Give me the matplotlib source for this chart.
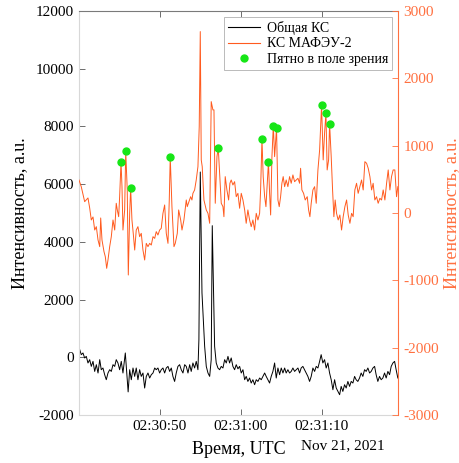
import numpy as np
import matplotlib
matplotlib.use("Agg")
import matplotlib.pyplot as plt
from matplotlib.lines import Line2D

plt.rcParams["font.family"] = ["Liberation Serif", "DejaVu Serif"]
plt.rcParams["axes.unicode_minus"] = False

# time in seconds after 02:30:40 UTC, Nov 21, 2021
total_t = [0.09, 0.28, 0.49, 0.70, 0.90, 1.11, 1.32, 1.52, 1.73, 1.94, 2.14, 2.35, 2.56, 2.75, 2.96,
           3.17, 3.37, 3.58, 3.79, 3.99, 4.20, 4.41, 4.60, 4.81, 5.02, 5.22, 5.43, 5.72, 6.07, 6.26,
           6.46, 6.67, 6.88, 7.07, 7.28, 7.49, 7.69, 7.90, 8.11, 8.31, 8.52, 8.73, 8.93, 9.14, 9.35,
           9.54, 9.75, 9.96, 10.16, 10.37, 10.58, 10.78, 10.99, 11.20, 11.40, 11.60, 11.81, 12.01, 12.22, 12.43,
           12.63, 12.84, 13.05, 13.25, 13.46, 13.67, 13.86, 14.07, 14.28, 14.48, 14.69, 14.81, 14.98, 15.19, 15.35,
           15.52, 15.72, 15.93, 16.14, 16.33, 16.46, 16.63, 16.75, 16.95, 17.16, 17.37, 17.57, 17.78, 17.99, 18.19,
           18.40, 18.60, 18.80, 19.01, 19.22, 19.42, 19.63, 19.84, 20.04, 20.25, 20.46, 20.65, 20.86, 21.07, 21.27,
           21.48, 21.69, 21.89, 22.10, 22.31, 22.51, 22.72, 22.93, 23.12, 23.33, 23.54, 23.74, 23.95, 24.16, 24.36,
           24.57, 24.78, 24.98, 25.19, 25.40, 25.59, 25.80, 26.01, 26.21, 26.42, 26.63, 26.83, 27.04, 27.25, 27.44,
           27.65, 27.86, 28.06, 28.27, 28.48, 28.68, 28.89, 29.10, 29.30, 29.51, 29.72, 29.91, 30.12, 30.33, 30.53,
           30.74, 30.95, 31.15, 31.36, 31.57, 31.77, 31.98, 32.19, 32.38, 32.59, 32.80, 33.00, 33.21, 33.42, 33.62,
           33.83, 34.04, 34.23, 34.44, 34.65, 34.85, 35.06, 35.27, 35.47, 35.68, 35.89, 36.09, 36.30, 36.51, 36.70,
           36.91, 37.12, 37.32, 37.53, 37.74, 37.94, 38.15, 38.36, 38.56, 38.77, 38.98, 39.17, 39.38]
total_v = [264, 90, 149, -24, 31, -198, -83, -316, -142, -490, -257, -545, -83, -431, -372,
           -604, -778, -545, -431, -490, -257, -316, -83, -198, -431, -142, -545, 149, -1200, -431,
           -778, -372, -663, -372, -778, -431, -663, -545, -1066, -663, -545, -719, -604, -545, -372,
           -431, -372, -545, -431, -372, -545, -372, -316, -490, -372, -663, -837, -545, -316, -257,
           -431, -545, -257, -316, -545, -257, -490, -198, -372, -142, -431, 611, 6420, 2232, 1305,
           378, -316, -545, -663, -83, 4560, 2000, 378, -198, -372, -431, -316, -372, -83, -198,
           31, -198, -24, -316, -431, -257, -400, -316, -545, -431, -778, -663, -837, -719, -893,
           -778, -951, -778, -837, -719, -778, -663, -545, -663, -778, -893, -663, -490, -198, -719,
           -372, -604, -372, -545, -372, -545, -431, -545, -490, -372, -490, -431, -372, -545, -372,
           -316, -431, -545, -663, -837, -663, -372, -490, -316, -372, -142, 90, -198, -83, -372,
           -198, -545, -778, -1125, -778, -1066, -1184, -1298, -1010, -1184, -951, -1066, -837, -1010, -837,
           -893, -663, -778, -837, -719, -545, -663, -431, -490, -372, -545, -490, -372, -316, -604,
           -837, -663, -778, -719, -545, -719, -490, -604, -316, -198, -142, -431, -719]

mafeu_t = [0.00, 0.28, 0.70, 1.11, 1.32, 1.52, 1.73, 1.94, 2.14, 2.35, 2.56, 2.68, 2.84, 3.09, 3.25,
           3.42, 3.58, 3.79, 3.99, 4.20, 4.41, 4.60, 4.73, 4.90, 5.02, 5.19, 5.31, 5.43, 5.64, 5.77,
           5.96, 6.09, 6.26, 6.38, 6.54, 6.70, 6.88, 7.07, 7.28, 7.49, 7.69, 7.90, 8.11, 8.31, 8.52,
           8.73, 8.93, 9.14, 9.35, 9.54, 9.75, 9.96, 10.16, 10.37, 10.58, 10.78, 10.99, 11.15, 11.27, 11.48,
           11.73, 11.89, 12.14, 12.31, 12.56, 12.72, 12.96, 13.25, 13.37, 13.58, 13.79, 13.95, 14.07, 14.28, 14.48,
           14.69, 14.85, 14.98, 15.10, 15.22, 15.43, 15.72, 15.93, 16.14, 16.33, 16.54, 16.67, 16.83, 17.04, 17.20,
           17.37, 17.57, 17.78, 17.90, 18.06, 18.27, 18.48, 18.64, 18.80, 19.01, 19.22, 19.42, 19.63, 19.84, 20.04,
           20.25, 20.46, 20.65, 20.86, 21.07, 21.27, 21.48, 21.69, 21.89, 22.10, 22.31, 22.43, 22.60, 22.75, 22.93,
           23.09, 23.25, 23.40, 23.54, 23.67, 23.83, 24.00, 24.16, 24.40, 24.57, 24.73, 24.90, 25.06, 25.22, 25.40,
           25.59, 25.80, 26.01, 26.21, 26.42, 26.63, 26.83, 27.04, 27.25, 27.37, 27.53, 27.74, 27.94, 28.19, 28.36,
           28.52, 28.68, 28.89, 29.10, 29.30, 29.51, 29.72, 29.96, 30.16, 30.33, 30.50, 30.65, 30.83, 30.95, 31.15,
           31.32, 31.48, 31.64, 31.81, 32.01, 32.22, 32.43, 32.63, 32.84, 33.05, 33.25, 33.46, 33.67, 33.86, 34.07,
           34.28, 34.48, 34.69, 34.90, 35.10, 35.31, 35.52, 35.72, 35.93, 36.14, 36.33, 36.54, 36.75, 36.95, 37.16,
           37.37, 37.57, 37.78, 37.99, 38.19, 38.40, 38.60, 38.80, 39.01, 39.22, 39.38]
mafeu_v = [490, 390, 168, 223, 74, -104, -59, -253, -203, -401, -500, -74, -401, -575, -649,
           -822, -698, -500, -352, -104, -253, 144, 45, -55, 242, 758, 391, -253, 45, 921,
           342, -921, -5, 371, -104, -302, -550, -253, -203, -352, -302, -550, -698, -451, -500,
           -451, -476, -352, -377, -277, -327, -253, -228, -5, 119, -302, -451, 193, 832, 94,
           -500, -451, -302, 45, -104, -253, -104, 193, 94, 168, 242, 193, 292, 342, 490,
           688, 1282, 2694, 788, 688, 193, 45, -5, -153, 1654, 1531, 1531, 144, 837, 966,
           590, 144, 94, -55, 540, 342, 193, 441, 490, 416, 465, 242, 292, 70, 292,
           193, 45, -153, 45, -104, -203, -104, -253, -5, -104, -5, 342, 1100, 540, 242,
           94, 441, 758, 292, -30, 837, 1293, 837, 1263, 193, 94, 242, 441, 540, 391,
           490, 391, 540, 441, 565, 465, 490, 515, 441, 664, 342, 292, 193, 242, 45,
           -55, 144, 342, 391, 144, 639, 936, 1605, 788, 1184, 1486, 639, 788, 1327, 837,
           342, -55, 193, -5, -104, -30, -253, -55, 94, 193, -30, -153, -5, -55, 342,
           441, 292, 391, 490, 342, 762, 738, 664, 540, 342, 441, 193, 242, 144, 218,
           193, 342, 193, 441, 639, 342, 540, 639, 639, 242, 391]

# moments when the spot was in the field of view
spot_t = [5.19, 5.77, 6.38, 11.27, 17.20, 22.60, 23.40, 24.00, 24.40, 29.96, 30.50, 30.95]
spot_v = [758, 921, 371, 832, 966, 1100, 758, 1293, 1263, 1605, 1486, 1327]

tick_s = [10, 20, 30]
tick_labels = ["02:30:50", "02:31:00", "02:31:10"]

orange = "#ff5a1e"
orange_axis = "#ff7040"
green = "#16e616"

fig = plt.figure(figsize=(4.59, 4.63), dpi=100)
ax = fig.add_axes([0.1721, 0.1037, 0.695, 0.8726])
ax2 = ax.twinx()

ax.plot(total_t, total_v, color="black", lw=0.7)
ax2.plot(mafeu_t, mafeu_v, color=orange, lw=0.7)
ax2.plot(spot_t, spot_v, "o", color=green, ms=5, mec=green, ls="none")

ax.set_xlim(0, 39.4)
ax.set_ylim(-2000, 12000)
ax2.set_ylim(-3000, 3000)
ax.set_yticks(np.arange(-2000, 12001, 2000))
ax2.set_yticks(np.arange(-3000, 3001, 1000))
ax.set_xticks(tick_s)
ax.set_xticklabels(tick_labels)

for a in (ax, ax2):
    a.tick_params(direction="in", length=4, labelsize=11, width=0.6)
ax.tick_params(axis="both", colors="#555555", labelcolor="black", top=True)
ax2.tick_params(axis="y", colors=orange_axis, labelcolor=orange_axis, pad=4)

ax.spines["left"].set_color("#d8d8d8")
ax.spines["bottom"].set_color("#d8d8d8")
ax.spines["top"].set_color("#7a7a7a")
ax2.spines["left"].set_visible(False)
ax2.spines["bottom"].set_visible(False)
ax2.spines["top"].set_visible(False)
ax2.spines["right"].set_color(orange_axis)
ax.spines["right"].set_visible(False)

ax.set_ylabel("Интенсивность, а.u.", fontsize=13, labelpad=6)
ax2.set_ylabel("Интенсивность, а.u.", fontsize=13, color=orange_axis, labelpad=3)
ax.set_xlabel("Время, UTC", fontsize=13, labelpad=6)
fig.text(0.839, 0.038, "Nov 21, 2021", ha="right", va="center", fontsize=11)

handles = [Line2D([], [], color="black", lw=0.8),
           Line2D([], [], color=orange, lw=0.8),
           Line2D([], [], marker="o", color=green, ls="none", ms=5)]
leg = ax2.legend(handles, ["Общая КС", "КС МАФЭУ-2", "Пятно в поле зрения"],
                 loc="upper right", fontsize=10, fancybox=False, framealpha=1,
                 edgecolor="#b0b0b0", borderaxespad=0.4, handlelength=2.3,
                 borderpad=0.3, labelspacing=0.2, handletextpad=0.5)
leg.get_frame().set_linewidth(0.6)

fig.savefig("out.png", dpi=100)
